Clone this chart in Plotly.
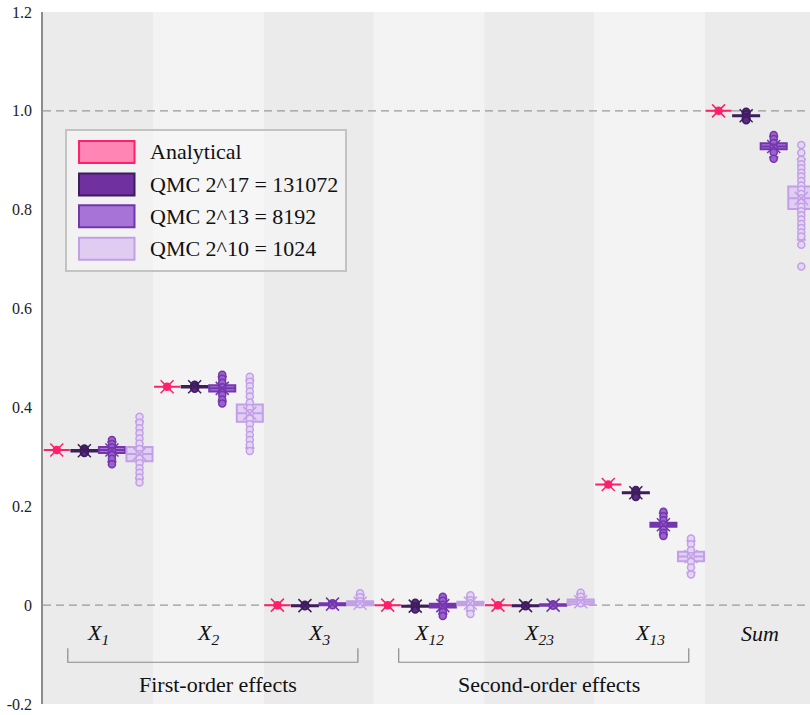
import plotly.graph_objects as go

# ---------------- data ----------------
CATEGORIES = ["X1", "X2", "X3", "X12", "X23", "X13", "Sum"]
CAT_LABELS = ["<i>X<sub>1</sub></i>", "<i>X<sub>2</sub></i>", "<i>X<sub>3</sub></i>",
              "<i>X<sub>12</sub></i>", "<i>X<sub>23</sub></i>", "<i>X<sub>13</sub></i>", "<i>Sum</i>"]
SERIES_NAMES = ["Analytical", "QMC 2^17 = 131072", "QMC 2^13 = 8192", "QMC 2^10 = 1024"]

ANALYTICAL = [0.314, 0.442, 0.0, 0.0, 0.0, 0.244, 1.0]

QMC17_Q1 = [0.311, 0.4405, -0.002, -0.003, -0.002, 0.2265, 0.989]
QMC17_MED = [0.3125, 0.442, -0.001, -0.002, -0.001, 0.2275, 0.990]
QMC17_Q3 = [0.314, 0.4435, 0.000, -0.001, 0.000, 0.2285, 0.991]
QMC17_LO = [0.308, 0.438, -0.003, -0.006, -0.003, 0.222, 0.984]
QMC17_HI = [0.317, 0.446, 0.001, 0.003, 0.001, 0.232, 0.996]
QMC17_POINTS = [[0.317, 0.314, 0.311, 0.308], [0.446, 0.442, 0.438], [0.001, -0.002],
                [0.005, -0.002, -0.009], [0.0, -0.002], [0.233, 0.228, 0.223, 0.219],
                [0.998, 0.993, 0.987, 0.981]]

QMC13_Q1 = [0.308, 0.432, 0.000, -0.005, -0.001, 0.1587, 0.9225]
QMC13_MED = [0.314, 0.4386, 0.002, -0.001, 0.000, 0.1626, 0.928]
QMC13_Q3 = [0.320, 0.445, 0.004, 0.003, 0.002, 0.1667, 0.9346]
QMC13_LO = [0.290, 0.412, -0.002, -0.018, -0.003, 0.143, 0.906]
QMC13_HI = [0.330, 0.462, 0.006, 0.013, 0.003, 0.186, 0.948]
QMC13_POINTS = [[0.334, 0.326, 0.319, 0.312, 0.304, 0.296, 0.285],
                [0.466, 0.458, 0.450, 0.441, 0.433, 0.425, 0.416, 0.408],
                [0.004, 0.002, 0.000],
                [0.017, 0.009, 0.001, -0.005, -0.014, -0.022],
                [0.002, -0.001],
                [0.189, 0.180, 0.172, 0.163, 0.153, 0.146, 0.140],
                [0.951, 0.943, 0.935, 0.926, 0.916, 0.903]]

QMC10_Q1 = [0.291, 0.371, 0.000, 0.000, 0.002, 0.089, 0.8016]
QMC10_MED = [0.306, 0.388, 0.004, 0.004, 0.007, 0.0985, 0.823]
QMC10_Q3 = [0.320, 0.406, 0.008, 0.007, 0.0115, 0.108, 0.847]
QMC10_LO = [0.256, 0.318, -0.002, -0.012, 0.000, 0.066, 0.739]
QMC10_HI = [0.372, 0.455, 0.020, 0.016, 0.022, 0.130, 0.902]
QMC10_POINTS = [[0.381, 0.369, 0.358, 0.348, 0.337, 0.327, 0.316, 0.306, 0.297, 0.287, 0.277, 0.268, 0.258, 0.248],
                [0.462, 0.452, 0.443, 0.432, 0.422, 0.410, 0.399, 0.388, 0.377, 0.366, 0.355, 0.344, 0.334, 0.324, 0.312],
                [0.024, 0.016, 0.008, 0.002],
                [0.020, 0.010, 0.004, -0.007, -0.018],
                [0.025, 0.017, 0.009, 0.004],
                [0.135, 0.123, 0.111, 0.099, 0.088, 0.076, 0.062],
                [0.931, 0.915, 0.901, 0.892, 0.884, 0.875, 0.867, 0.858, 0.849, 0.841, 0.832, 0.823,
                 0.815, 0.806, 0.797, 0.789, 0.780, 0.771, 0.763, 0.754, 0.746, 0.729, 0.685]]

Y_TICKS = [-0.2, 0, 0.2, 0.4, 0.6, 0.8, 1.0, 1.2]
Y_TICK_TEXT = ["-0.2", "0", "0.2", "0.4", "0.6", "0.8", "1.0", "1.2"]
GROUPS = [("First-order effects", 0), ("Second-order effects", 3)]

# ---------------- styles ----------------
FONT = "Liberation Serif"
OFFSETS = [-0.375, -0.125, 0.125, 0.375]
BOX_W = 0.236
STYLES = [
    dict(line="#ff1f6b", fill="#ff85b5", pfill="#ff1f6b", pline="#ff1f6b"),
    dict(line="#3d1d5c", fill="#7030a0", pfill="#5a2a86", pline="#3d1d5c"),
    dict(line="#7436ac", fill="#a673d6", pfill="#9a62cf", pline="#7436ac"),
    dict(line="#c29fe6", fill="rgba(222,201,243,0.85)", pfill="#e5d5f5", pline="#c29fe6"),
]

fig = go.Figure()
n = len(CATEGORIES)

series = [
    (ANALYTICAL, ANALYTICAL, ANALYTICAL, ANALYTICAL, ANALYTICAL, [[v] for v in ANALYTICAL]),
    (QMC17_Q1, QMC17_MED, QMC17_Q3, QMC17_LO, QMC17_HI, QMC17_POINTS),
    (QMC13_Q1, QMC13_MED, QMC13_Q3, QMC13_LO, QMC13_HI, QMC13_POINTS),
    (QMC10_Q1, QMC10_MED, QMC10_Q3, QMC10_LO, QMC10_HI, QMC10_POINTS),
]

for s, (q1, med, q3, lo, hi, pts) in enumerate(series):
    st = STYLES[s]
    xs = [i + OFFSETS[s] for i in range(n)]
    fig.add_trace(go.Box(
        x=xs, q1=q1, median=med, q3=q3, lowerfence=lo, upperfence=hi,
        orientation="v", width=BOX_W, whiskerwidth=0.35,
        fillcolor=st["fill"], line=dict(color=st["line"], width=2),
        boxpoints=False, showlegend=False, hoverinfo="skip", name=SERIES_NAMES[s]))

for s, (q1, med, q3, lo, hi, pts) in enumerate(series):
    st = STYLES[s]
    px_, py_ = [], []
    for i in range(n):
        for v in pts[i]:
            px_.append(i + OFFSETS[s])
            py_.append(v)
    fig.add_trace(go.Scatter(
        x=px_, y=py_, mode="markers", showlegend=False, hoverinfo="skip",
        marker=dict(symbol="circle", size=7, color=st["pfill"],
                    line=dict(color=st["pline"], width=1.5))))
    fig.add_trace(go.Scatter(
        x=[i + OFFSETS[s] for i in range(n)], y=med, mode="markers",
        showlegend=False, hoverinfo="skip",
        marker=dict(symbol="x-thin", size=13, color=st["line"],
                    line=dict(color=st["line"], width=1.5))))

# ---------------- decorations ----------------
shapes = []
for i in range(n):
    shapes.append(dict(type="rect", xref="x", yref="paper", x0=i - 0.5, x1=i + 0.5, y0=0, y1=1,
                       fillcolor="#ebebeb" if i % 2 == 0 else "#f3f3f3", line=dict(width=0),
                       layer="below"))
for yv in (0, 1.0):
    shapes.append(dict(type="line", xref="paper", yref="y", x0=0, x1=1, y0=yv, y1=yv,
                       line=dict(color="#9a9a9a", width=1.2, dash="8px,5px"), layer="below"))

annotations = []
for i, lab in enumerate(CAT_LABELS):
    annotations.append(dict(x=i, y=-0.058, xref="x", yref="y", text=lab, showarrow=False,
                            font=dict(family=FONT, size=22, color="#111")))

for label, start in GROUPS:
    x0, x1 = start - 0.275, start + 2.355
    shapes.append(dict(type="path", xref="x", yref="y",
                       path=f"M {x0},-0.087 L {x0},-0.1155 L {x1},-0.1155 L {x1},-0.087",
                       line=dict(color="#8a8a8a", width=1.2), layer="above"))
    annotations.append(dict(x=start + 1.09, y=-0.161, xref="x", yref="y", text=label,
                            showarrow=False, font=dict(family=FONT, size=22, color="#111")))

# manual legend (paper coordinates from pixel positions)
L, W, T, H = 43, 767, 12, 692
def pxx(p):
    return (p - L) / W
def pyy(p):
    return (T + H - p) / H

shapes.append(dict(type="rect", xref="paper", yref="paper", x0=pxx(66), x1=pxx(346),
                   y0=pyy(271), y1=pyy(130), fillcolor="rgba(248,248,248,0.55)",
                   line=dict(color="#c3c3c3", width=2), layer="above"))
row_y = [152, 184.5, 216.3, 248.7]
for s in range(4):
    st = STYLES[s]
    fill = st["fill"] if s != 3 else "#e0cbf1"
    shapes.append(dict(type="rect", xref="paper", yref="paper", x0=pxx(79), x1=pxx(134.5),
                       y0=pyy(row_y[s] + 11), y1=pyy(row_y[s] - 11), fillcolor=fill,
                       line=dict(color=st["line"], width=2), layer="above"))
    annotations.append(dict(x=pxx(148), y=pyy(row_y[s]), xref="paper", yref="paper",
                            xanchor="left", yanchor="middle", text=SERIES_NAMES[s],
                            showarrow=False, font=dict(family=FONT, size=22, color="#111")))

fig.update_layout(
    width=810, height=715, margin=dict(l=43, r=0, t=12, b=11),
    paper_bgcolor="white", plot_bgcolor="white",
    font=dict(family=FONT, color="#222"),
    shapes=shapes, annotations=annotations, showlegend=False,
    xaxis=dict(range=[-0.5, 6.454], showgrid=False, zeroline=False, showticklabels=False,
               showline=False, ticks=""),
    yaxis=dict(range=[-0.2, 1.2], tickvals=Y_TICKS, ticktext=Y_TICK_TEXT, showgrid=False,
               zeroline=False, showline=True, linecolor="#8c8c8c", linewidth=1.5, ticks="",
               ticklabelstandoff=6, tickfont=dict(family=FONT, size=16, color="#222")),
)

fig.write_html("out.html")
